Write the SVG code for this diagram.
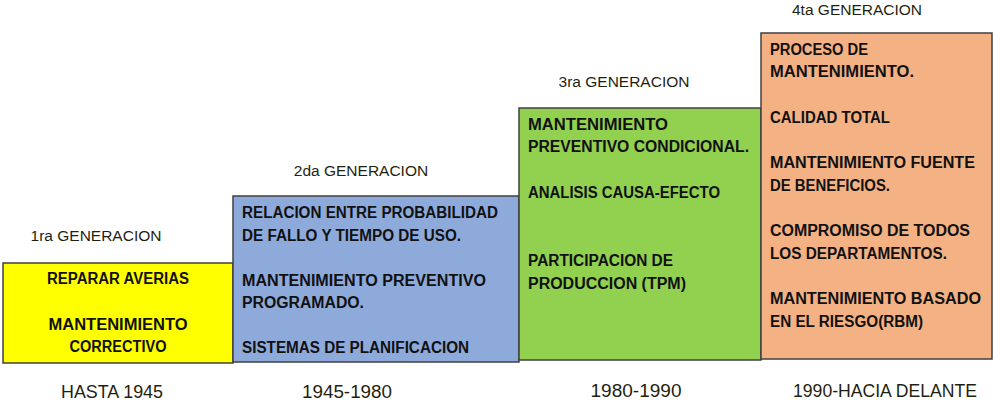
<svg xmlns="http://www.w3.org/2000/svg" width="1000" height="407" viewBox="0 0 1000 407">
<style>
.box{stroke:#404040;stroke-width:1.5}
.b{font-family:"Liberation Sans",Arial,sans-serif;font-weight:bold;font-size:16px;fill:#111}
.l{font-family:"Liberation Sans",Arial,sans-serif;font-size:15.5px;fill:#1f1f10}
.y{font-family:"Liberation Sans",Arial,sans-serif;font-size:17.5px;fill:#1f1f10}
.c{text-anchor:middle}
</style>
<rect width="1000" height="407" fill="#fff"/>
<g id="gen1">
<text class="l c" x="96" y="241">1ra GENERACION</text>
<rect class="box" x="3" y="263" width="230" height="100" fill="#ffff00"/>
<text class="b c" x="118" y="284" textLength="142" lengthAdjust="spacingAndGlyphs">REPARAR AVERIAS</text>
<text class="b c" x="118" y="330" textLength="139" lengthAdjust="spacingAndGlyphs">MANTENIMIENTO</text>
<text class="b c" x="118" y="352" textLength="97" lengthAdjust="spacingAndGlyphs">CORRECTIVO</text>
<text class="y c" x="112" y="398" textLength="102" lengthAdjust="spacingAndGlyphs">HASTA 1945</text>
</g>
<g id="gen2">
<text class="l c" x="361" y="176">2da GENERACION</text>
<rect class="box" x="233" y="196" width="286" height="166" fill="#8eaadb"/>
<text class="b" x="242" y="218" textLength="256" lengthAdjust="spacingAndGlyphs">RELACION ENTRE PROBABILIDAD</text>
<text class="b" x="242" y="241" textLength="219" lengthAdjust="spacingAndGlyphs">DE FALLO Y TIEMPO DE USO.</text>
<text class="b" x="242" y="286" textLength="244" lengthAdjust="spacingAndGlyphs">MANTENIMIENTO PREVENTIVO</text>
<text class="b" x="242" y="308" textLength="122" lengthAdjust="spacingAndGlyphs">PROGRAMADO.</text>
<text class="b" x="242" y="353" textLength="227" lengthAdjust="spacingAndGlyphs">SISTEMAS DE PLANIFICACION</text>
<text class="y c" x="347" y="398" textLength="90" lengthAdjust="spacingAndGlyphs">1945-1980</text>
</g>
<g id="gen3">
<text class="l c" x="624" y="87">3ra GENERACION</text>
<rect class="box" x="519" y="108" width="242" height="252" fill="#92d050"/>
<text class="b" x="528" y="130" textLength="140" lengthAdjust="spacingAndGlyphs">MANTENIMIENTO</text>
<text class="b" x="528" y="152" textLength="221" lengthAdjust="spacingAndGlyphs">PREVENTIVO CONDICIONAL.</text>
<text class="b" x="528" y="198" textLength="192" lengthAdjust="spacingAndGlyphs">ANALISIS CAUSA-EFECTO</text>
<text class="b" x="528" y="266" textLength="145" lengthAdjust="spacingAndGlyphs">PARTICIPACION DE</text>
<text class="b" x="528" y="289" textLength="158" lengthAdjust="spacingAndGlyphs">PRODUCCION (TPM)</text>
<text class="y c" x="636" y="397" textLength="91" lengthAdjust="spacingAndGlyphs">1980-1990</text>
</g>
<g id="gen4">
<text class="l c" x="857" y="15">4ta GENERACION</text>
<rect class="box" x="761" y="33" width="231" height="326" fill="#f4b183"/>
<text class="b" x="770" y="55" textLength="98" lengthAdjust="spacingAndGlyphs">PROCESO DE</text>
<text class="b" x="770" y="77" textLength="144" lengthAdjust="spacingAndGlyphs">MANTENIMIENTO.</text>
<text class="b" x="770" y="123" textLength="120" lengthAdjust="spacingAndGlyphs">CALIDAD TOTAL</text>
<text class="b" x="770" y="168" textLength="205" lengthAdjust="spacingAndGlyphs">MANTENIMIENTO FUENTE</text>
<text class="b" x="770" y="191" textLength="120" lengthAdjust="spacingAndGlyphs">DE BENEFICIOS.</text>
<text class="b" x="770" y="236" textLength="200" lengthAdjust="spacingAndGlyphs">COMPROMISO DE TODOS</text>
<text class="b" x="770" y="259" textLength="177" lengthAdjust="spacingAndGlyphs">LOS DEPARTAMENTOS.</text>
<text class="b" x="770" y="304" textLength="211" lengthAdjust="spacingAndGlyphs">MANTENIMIENTO BASADO</text>
<text class="b" x="770" y="327" textLength="153" lengthAdjust="spacingAndGlyphs">EN EL RIESGO(RBM)</text>
<text class="y c" x="885" y="397" textLength="184" lengthAdjust="spacingAndGlyphs">1990-HACIA DELANTE</text>
</g>
<g id="connectors"></g>
</svg>
